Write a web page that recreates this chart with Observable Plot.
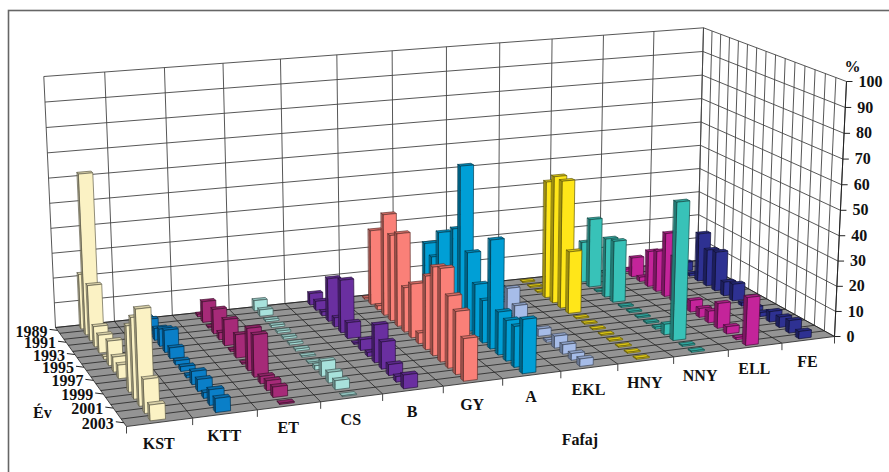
<!DOCTYPE html>
<html><head><meta charset="utf-8">
<script src="https://cdn.jsdelivr.net/npm/d3@7"></script>
<script src="https://cdn.jsdelivr.net/npm/@observablehq/plot@0.6"></script>
<style>html,body{margin:0;padding:0;background:#fff}svg{display:block}</style>
</head><body><div id="c"></div>
<script>
const species = ["KST","KTT","ET","CS","B","GY","A","EKL","HNY","NNY","ELL","FE"];
const years = [1989,1990,1991,1992,1993,1994,1995,1996,1997,1998,1999,2000,2001,2002,2003];
const yearLabels = [1989,1991,1993,1995,1997,1999,2001,2003];
const pctTicks = [0,10,20,30,40,50,60,70,80,90,100];
const colors = ["#FBF2C4","#0A7FC8","#A62A78","#A8E2DC","#6A2FA0","#FA8078","#009FD6","#A6BCE8","#FFE619","#38C2B8","#C4249A","#2E3192"];
const KST = [22,64,22,8,7,1,9.5,5.8,5.2,0,25,30.5,36,12.6,5.8];
const KTT = [2,3.6,1.6,4.7,6.8,8.7,4.2,1.6,1.8,1,5,4.5,2.1,5.8,5.2];
const ET  = [1,8.4,.5,9.8,2.8,10.3,.8,9.1,.5,16.3,16.2,2.8,3.7,3.9,.4];
const CS  = [4.2,2.6,.8,.8,.8,.8,.8,.8,.5,.5,1.6,5.8,4,3.4,.3];
const B   = [4.7,3.7,1.6,17.3,3.7,21,6.3,.5,4.2,1.6,14.7,10.5,4.2,2.1,5.2];
const GY  = [.5,30.5,1.6,41,34.6,37.3,17.8,21.4,4.2,28.9,34.6,36.2,27.8,24.2,16.2];
const A   = [3.2,23,19.5,31.5,5,37,64,31.5,21,16.8,42.7,16.8,15.8,15.8,20.8];
const EKL = [1,3.2,2.1,2.1,2.7,10.5,5.6,.3,.3,2.9,.8,4.7,3.7,2.6,2.9];
const HNY = [.4,.4,.4,48,52,52,25.2,.4,.4,.4,.4,.4,.4,.4,.4];
const NNY = [.5,16.8,28.4,.4,24.2,25.2,.5,.5,.5,.5,.8,4.2,54.6,.5,.5];
const ELL = [1,8,1.8,14.7,16.8,26.2,18.5,1.6,4.7,3.6,4.7,10,2.9,.8,18.9];
const FE  = [.5,3.7,1,20,15.1,16.2,5.7,6.9,1.3,1.6,1.6,4.2,4.2,5,2.9];
const table = [KST,KTT,ET,CS,B,GY,A,EKL,HNY,NNY,ELL,FE];

// perspective of the chart box
const floorQuad = [[55,327],[697,260],[834,336],[126,426]];
const topQuad   = [[43.3,76],[703,27.3],[846,81],[115,147]];
function quad(q){
  const [[x0,y0],[x1,y1],[x2,y2],[x3,y3]] = q;
  const dx1=x1-x2,dx2=x3-x2,sx=x0-x1+x2-x3,dy1=y1-y2,dy2=y3-y2,sy=y0-y1+y2-y3;
  const den=dx1*dy2-dx2*dy1, g=(sx*dy2-dx2*sy)/den, h=(dx1*sy-sx*dy1)/den;
  const a=x1-x0+g*x1,b=x3-x0+h*x3,d=y1-y0+g*y1,e=y3-y0+h*y3;
  return (u,v)=>{const w=g*u+h*v+1;return [(a*u+b*v+x0)/w,(d*u+e*v+y0)/w];};
}
const Q0=quad(floorQuad), Q1=quad(topQuad);
const uFlat=-.038;
function project(s,r,p=0){ // s species units, r year units, p percent
  const u0=s/species.length, u=u0*(1+uFlat)/(1+uFlat*u0), v=r/years.length, [xa,ya]=Q0(u,v), [xb,yb]=Q1(u,v);
  const t=p/100, k=.02, g=t*(1-k)/(1-k*t);
  return [xa+(xb-xa)*g, ya+(yb-ya)*g];
}
const barW=.23, barD=.36;
const polys=[]; let pid=0;
function poly(pts,fill,stroke){const id=pid++;for(const [x,y] of pts)polys.push({id,x,y,fill,stroke});}
for(let s=species.length-1;s>=0;s--){
  const c=colors[s], side=d3.color(c).darker(1.3).formatHex(), topc=d3.color(c).darker(.45).formatHex(), edge=d3.color(c).darker(2.6).formatHex();
  for(let r=0;r<years.length;r++){
    const val=table[s][r]; if(!val) continue;
    const s0=s+.5-barW/2,s1=s+.5+barW/2,r0=r+.5-barD/2,r1=r+.5+barD/2;
    poly([project(s0,r0),project(s0,r1),project(s0,r1,val),project(s0,r0,val)],side,edge);
    poly([project(s0,r0,val),project(s1,r0,val),project(s1,r1,val),project(s0,r1,val)],topc,edge);
    poly([project(s0,r1),project(s1,r1),project(s1,r1,val),project(s0,r1,val)],c,edge);
  }
}
// walls, floor and their grid
const nS=species.length,nY=years.length;
const surfaces=[];
[[project(0,0),project(nS,0),project(nS,0,100),project(0,0,100)],
 [project(nS,0),project(nS,nY),project(nS,nY,100),project(nS,0,100)]].forEach((p,i)=>p.forEach(([x,y])=>surfaces.push({id:"w"+i,x,y})));
const floorPts=[project(0,0),project(nS,0),project(nS,nY),project(0,nY)].map(([x,y])=>({x,y}));
const grid=[],floorGrid=[];
const seg=(arr,a,b)=>arr.push({x1:a[0],y1:a[1],x2:b[0],y2:b[1]});
for(const p of pctTicks){seg(grid,project(0,0,p),project(nS,0,p));seg(grid,project(nS,0,p),project(nS,nY,p));}
for(let s=0;s<=nS;s++){seg(grid,project(s,0),project(s,0,100));seg(floorGrid,project(s,0),project(s,nY));}
for(let r=0;r<=nY;r++){seg(grid,project(nS,r),project(nS,r,100));seg(floorGrid,project(0,r),project(nS,r));}
const axisLine=[];seg(axisLine,project(nS,nY),project(nS,nY,100));
const xTicks=[];for(let s=0;s<=nS;s++){const p=project(s,nY);seg(xTicks,p,[p[0],p[1]+7]);}
const zTicks=pctTicks.map(p=>{const q=project(nS,nY,p);return {x1:q[0],y1:q[1],x2:q[0]+6,y2:q[1],p,x:q[0],y:q[1]};});
const yLab=yearLabels.map(l=>{const q=project(0,years.indexOf(l)+.5);return {l,x:q[0],y:q[1]};});
const xLab=species.map((l,i)=>{const q=project(i+.5,nY);return {l,x:q[0],y:q[1]};});
const txt={fontFamily:"Liberation Serif",fontWeight:"bold",fontSize:16,fill:"#111"};
const pctTop=project(nS,nY,100);
const titleAnchor=project(7.72,nY);
const evAnchor=project(0,nY*.86);
const chart=Plot.plot({
  width:889,height:472,margin:0,
  style:{background:"#fff"},
  x:{domain:[0,889],range:[0,889],axis:null},
  y:{domain:[0,472],range:[0,472],axis:null},
  color:{type:"identity"},
  marks:[
    Plot.frame({stroke:"#666",strokeWidth:1.6,insetLeft:8,insetTop:10,insetRight:-6,insetBottom:-6}),
    Plot.line(surfaces,{x:"x",y:"y",z:"id",fill:"#fff",stroke:"none",curve:"linear-closed"}),
    Plot.line(floorPts,{x:"x",y:"y",fill:"#949494",stroke:"none",curve:"linear-closed"}),
    Plot.link(grid,{x1:"x1",y1:"y1",x2:"x2",y2:"y2",stroke:"#444",strokeWidth:.9}),
    Plot.link(floorGrid,{x1:"x1",y1:"y1",x2:"x2",y2:"y2",stroke:"#222",strokeWidth:.8}),
    Plot.link(axisLine,{x1:"x1",y1:"y1",x2:"x2",y2:"y2",stroke:"#222",strokeWidth:1}),
    Plot.link(xTicks,{x1:"x1",y1:"y1",x2:"x2",y2:"y2",stroke:"#444",strokeWidth:1}),
    Plot.link(zTicks,{x1:"x1",y1:"y1",x2:"x2",y2:"y2",stroke:"#222",strokeWidth:1}),
    Plot.link(yLab,{x1:d=>d.x-8,y1:d=>d.y-1,x2:"x",y2:"y",stroke:"#222",strokeWidth:1}),
    Plot.line(polys,{x:"x",y:"y",z:"id",fill:"fill",stroke:"stroke",strokeWidth:.7,curve:"linear-closed"}),
    Plot.text(yLab,{x:"x",y:"y",text:d=>String(d.l),textAnchor:"end",dx:-10,dy:1,...txt}),
    Plot.text(xLab,{x:"x",y:"y",text:"l",dx:-1,dy:22,...txt}),
    Plot.text(zTicks,{x:"x",y:"y",text:d=>String(d.p),textAnchor:"start",dx:12,...txt}),
    Plot.text(["%"],{x:()=>pctTop[0],y:()=>pctTop[1],dx:6,dy:-15,...txt}),
    Plot.text(["Fafaj"],{x:()=>titleAnchor[0],y:()=>titleAnchor[1],dx:-22,dy:74,...txt}),
    Plot.text(["Év"],{x:()=>evAnchor[0],y:()=>evAnchor[1],textAnchor:"middle",dx:-73,dy:2,...txt})
  ]
});
document.getElementById("c").append(chart);
</script></body></html>
